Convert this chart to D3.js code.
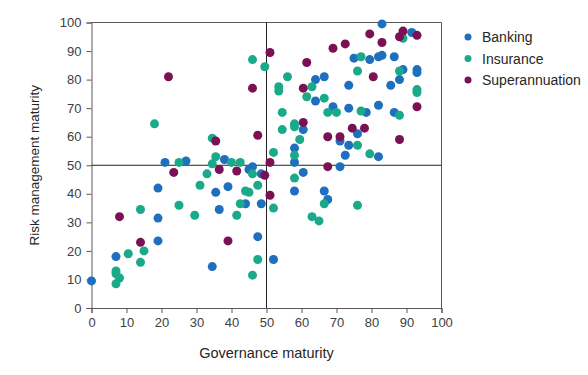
<!DOCTYPE html>
<html>
<head>
<meta charset="utf-8">
<script src="https://cdn.jsdelivr.net/npm/d3@7"></script>
<style>
  body { margin: 0; background: #fff; }
  svg text { font-family: "Liberation Sans", Arial, sans-serif; }
</style>
</head>
<body>
<svg id="chart" width="588" height="375"></svg>
<script>
// [governance, risk] pairs
var banking = [[0,9.5],[7,18],[19,31.5],[19,23.5],[19,42],[21,51],[27,51.5],[38,52],[46,49.5],[45,48.5],
  [48.5,47],[35.5,40.5],[39,42.5],[36.5,34.5],[44,36.5],[48.5,36.5],[47.5,25],[34.5,14.5],[52,17],[75,87.5],
  [64,80],[66.5,81],[73.5,78],[64,72.5],[69,70.5],[73.5,70],[60.5,62.5],[71,58.5],[76,61],[73.5,57],
  [72.5,53.5],[58,56],[58,51],[71,49.5],[60.5,47.5],[58,41],[66.5,41],[67.5,38],[83,99.5],[91.5,96.5],
  [79.5,87],[82,88],[83,88.5],[86.5,88],[89,83.5],[93,83.5],[93,82.5],[88,80],[85.5,78],[82,71],
  [78.5,68.5],[86.5,68.5],[82,53]];
var insurance = [[18,64.5],[25,51],[25,36],[14,34.5],[10.5,19],[15,20],[14,16],[7,13],[7,12],[8,10.5],
  [7,8.5],[46,87],[49.5,84.5],[34.5,59.5],[35.5,53],[34.5,50.5],[40,51],[42.5,51],[46,47],[33,47],
  [31,43],[44,41],[45,40.5],[47.5,43],[42.5,36.5],[29.5,32.5],[41.5,32.5],[47.5,17],[46,11.5],[76,83],
  [56,81],[53.5,77.5],[53.5,76],[63,77.5],[61.5,74],[66.5,73.5],[67.5,68.5],[70,68.5],[54.5,68.5],[54.5,62.5],
  [58,64.5],[58,63.5],[59.5,59],[76,57],[58,53.5],[52,54.5],[58,45.5],[66.5,36.5],[52,35],[63,32],
  [65,30.5],[76,36],[89,94.5],[77,88],[88,83],[93,76.5],[93,75.5],[77,69],[88,67.5],[79.5,54]];
var superannuation = [[22,81],[23.5,47.5],[8,32],[14,23],[51,89.5],[46,77],[47.5,60.5],[35.5,58.5],[49.5,46.5],[36.5,48.5],
  [41.5,48],[51,39.5],[39,23.5],[69,91],[72.5,92.5],[61.5,86],[60.5,77],[60.5,65],[67.5,60],[71,60],
  [74.5,63],[51,51],[67.5,49.5],[79.5,96],[89,97],[88,95],[93,95.5],[83,93],[80.5,81],[93,70.5],
  [78,63],[88,59]];

var seriesNames = ["Banking", "Insurance", "Superannuation"];
var seriesColors = ["#1f6fbf", "#1aaa8a", "#7b1155"];
var seriesData = [banking, insurance, superannuation];
var ticks = [0,10,20,30,40,50,60,70,80,90,100];

var svg = d3.select("#chart");
var margin = {left: 91.5, right: 146.5, top: 22.5, bottom: 67};
var w = 588 - margin.left - margin.right;
var h = 375 - margin.top - margin.bottom;

var g = svg.append("g").attr("transform", "translate(" + margin.left + "," + margin.top + ")");

var x = d3.scaleLinear().domain([0, 100]).range([0, w]);
var y = d3.scaleLinear().domain([0, 100]).range([h, 0]);

// frame top + right
g.append("path")
  .attr("d", "M0,0H" + w + "V" + h)
  .attr("fill", "none").attr("stroke", "#595959").attr("stroke-width", 1);

var xAxis = g.append("g").attr("transform", "translate(0," + h + ")")
  .call(d3.axisBottom(x).tickValues(ticks).tickSize(5).tickPadding(5));
var yAxis = g.append("g")
  .call(d3.axisLeft(y).tickValues(ticks).tickSize(5).tickPadding(5));

[xAxis, yAxis].forEach(function(a) {
  a.select(".domain").attr("stroke", "#595959");
  a.selectAll(".tick line").attr("stroke", "#595959");
  a.selectAll("text").attr("fill", "#404040").style("font-size", "13px");
});

// quadrant lines
g.append("line").attr("x1", x(50)).attr("x2", x(50)).attr("y1", 0).attr("y2", h)
  .attr("stroke", "#222").attr("stroke-width", 1);
g.append("line").attr("x1", 0).attr("x2", w).attr("y1", y(50)).attr("y2", y(50))
  .attr("stroke", "#222").attr("stroke-width", 1);

seriesData.forEach(function(data, i) {
  g.append("g").selectAll("circle")
    .data(data)
    .enter()
    .append("circle")
    .attr("cx", d => x(d[0]))
    .attr("cy", d => y(d[1]))
    .attr("r", 4.5)
    .attr("fill", seriesColors[i]);
});

// axis titles
svg.append("text")
  .attr("x", margin.left + x(50)).attr("y", 358)
  .attr("text-anchor", "middle").attr("fill", "#262626")
  .style("font-size", "14.5px").text("Governance maturity");
svg.append("text")
  .attr("transform", "translate(39," + (margin.top + y(50)) + ") rotate(-90)")
  .attr("text-anchor", "middle").attr("fill", "#262626")
  .style("font-size", "13.5px").text("Risk management maturity");

// legend
var legend = svg.append("g").attr("transform", "translate(468,37)");
seriesNames.forEach(function(name, i) {
  var row = legend.append("g").attr("transform", "translate(0," + (i * 21.5) + ")");
  row.append("circle").attr("r", 3.5).attr("fill", seriesColors[i]);
  row.append("text").attr("x", 14).attr("y", 5)
    .attr("fill", "#262626").style("font-size", "14px").text(name);
});
</script>
</body>
</html>
